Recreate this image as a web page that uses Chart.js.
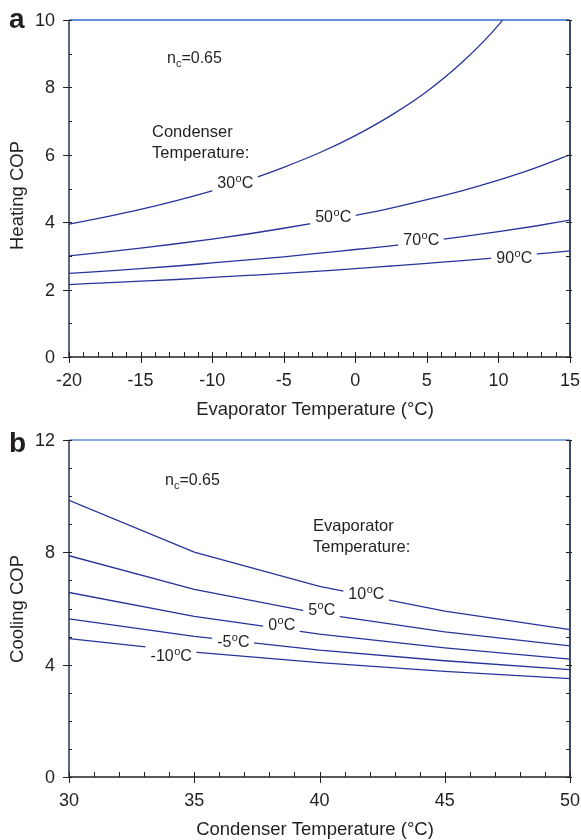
<!DOCTYPE html>
<html>
<head>
<meta charset="utf-8">
<script src="https://cdn.jsdelivr.net/npm/chart.js@4/dist/chart.umd.min.js"></script>
<style>
  html, body { margin: 0; padding: 0; background: #fff; }
  .panel { position: relative; width: 581px; height: 420px; }
  canvas { display: block; }
</style>
</head>
<body>
<div class="panel"><canvas id="heat" width="581" height="420"></canvas></div>
<div class="panel"><canvas id="cool" width="581" height="420"></canvas></div>
<script>
// ---- panel a: heating COP vs evaporator temperature ----
const evapTemps = [-20, -17.5, -15, -12.5, -10, -7.5, -5, -2.5, 0, 2.5, 5, 7.5, 10, 12.5, 15];
const heat30 = [3.94, 4.15, 4.38, 4.64, 4.93, 5.25, 5.63, 6.06, 6.57, 7.17, 7.88, 8.76, 9.85, 11.26, 13.13];
const heat50 = [3.00, 3.11, 3.23, 3.36, 3.50, 3.65, 3.82, 4.00, 4.20, 4.42, 4.67, 4.94, 5.25, 5.60, 6.00];
const heat70 = [2.48, 2.55, 2.62, 2.70, 2.79, 2.88, 2.97, 3.08, 3.19, 3.30, 3.43, 3.57, 3.72, 3.88, 4.06];
const heat90 = [2.15, 2.20, 2.25, 2.30, 2.36, 2.42, 2.48, 2.55, 2.62, 2.70, 2.78, 2.86, 2.95, 3.05, 3.15];
const heatLabels = ['30', '50', '70', '90'];
const heatXTicks = [-20, -15, -10, -5, 0, 5, 10, 15];
const heatYTicks = [0, 2, 4, 6, 8, 10];

// ---- panel b: cooling COP vs condenser temperature ----
const condTemps = [30, 35, 40, 45, 50];
const cool10 = [9.85, 8.01, 6.79, 5.91, 5.25];
const cool5 = [7.88, 6.68, 5.82, 5.17, 4.67];
const cool0 = [6.57, 5.72, 5.09, 4.60, 4.20];
const coolM5 = [5.63, 5.01, 4.52, 4.14, 3.82];
const coolM10 = [4.93, 4.45, 4.07, 3.76, 3.50];
const coolLabels = ['10', '5', '0', '-5', '-10'];
const coolXTicks = [30, 35, 40, 45, 50];
const coolYTicks = [0, 4, 8, 12];

const FONT = '"Liberation Sans", Arial, sans-serif';
const INK = '#231f20';
const LINE = '#28339a';

function series(xs, ys) {
  return xs.map((x, i) => ({ x, y: ys[i] }));
}

function lineSet(xs, ys, smooth) {
  return {
    data: series(xs, ys),
    borderColor: LINE,
    borderWidth: 1.3,
    pointRadius: 0,
    fill: false,
    tension: 0,
    cubicInterpolationMode: smooth ? 'monotone' : 'default'
  };
}

// number + superscript "o" + "C", on a white box that breaks the curve
function degLabel(ctx, num, px, py) {
  const big = '16px ' + FONT, small = '11px ' + FONT;
  ctx.font = big;
  const w1 = ctx.measureText(num).width;
  const w3 = ctx.measureText('C').width;
  ctx.font = small;
  const w2 = ctx.measureText('o').width;
  const total = w1 + w2 + w3;
  const x0 = px - total / 2;
  ctx.fillStyle = '#fff';
  ctx.fillRect(x0 - 5, py - 10, total + 10, 20);
  ctx.fillStyle = INK;
  ctx.textAlign = 'left';
  ctx.textBaseline = 'alphabetic';
  const base = py + 6;
  ctx.font = big;
  ctx.fillText(num, x0, base);
  ctx.font = small;
  ctx.fillText('o', x0 + w1 + 0.5, base - 6);
  ctx.font = big;
  ctx.fillText('C', x0 + w1 + w2 + 0.5, base);
}

function ncText(ctx, x, base) {
  ctx.fillStyle = INK;
  ctx.textAlign = 'left';
  ctx.textBaseline = 'alphabetic';
  ctx.font = '16px ' + FONT;
  ctx.fillText('n', x, base);
  const wn = ctx.measureText('n').width;
  ctx.font = '11px ' + FONT;
  ctx.fillText('c', x + wn, base + 4);
  const wc = ctx.measureText('c').width;
  ctx.font = '16px ' + FONT;
  ctx.fillText('=0.65', x + wn + wc, base);
}

const panelPlugin = {
  id: 'panel',
  afterDatasetsDraw(chart, args, o) {
    const { ctx, chartArea: a, scales: { x, y } } = chart;
    ctx.save();
    // curve labels
    o.labels.forEach(l => degLabel(ctx, l.text, x.getPixelForValue(l.x), y.getPixelForValue(l.y)));

    // frame
    ctx.lineCap = 'butt';
    ctx.strokeStyle = o.topColor; ctx.lineWidth = 1.5;
    ctx.beginPath(); ctx.moveTo(a.left, a.top); ctx.lineTo(a.right, a.top); ctx.stroke();
    ctx.strokeStyle = '#3b4a68'; ctx.lineWidth = 2;
    ctx.beginPath(); ctx.moveTo(a.right, a.top); ctx.lineTo(a.right, a.bottom); ctx.stroke();
    ctx.strokeStyle = '#2a3550'; ctx.lineWidth = 1.5;
    ctx.beginPath(); ctx.moveTo(a.left, a.top); ctx.lineTo(a.left, a.bottom); ctx.stroke();
    ctx.strokeStyle = '#222'; ctx.lineWidth = 1.5;
    ctx.beginPath(); ctx.moveTo(a.left, a.bottom); ctx.lineTo(a.right + 1, a.bottom); ctx.stroke();

    // tick marks (minor every 1 unit)
    ctx.strokeStyle = '#222'; ctx.lineWidth = 1;
    ctx.beginPath();
    for (let v = y.min; v <= y.max; v += 1) {
      const p = Math.round(y.getPixelForValue(v)) + 0.5;
      const major = o.yTicks.includes(v);
      ctx.moveTo(a.left - (major ? 6 : 0), p); ctx.lineTo(a.left + 3, p);
      ctx.moveTo(a.right - 4, p); ctx.lineTo(a.right + (major ? 2 : 0), p);
    }
    for (let v = x.min; v <= x.max; v += 1) {
      const p = Math.round(x.getPixelForValue(v)) + 0.5;
      const major = o.xTicks.includes(v);
      ctx.moveTo(p, a.bottom - 5); ctx.lineTo(p, a.bottom + (major ? 6 : 0));
    }
    ctx.stroke();

    // tick labels
    ctx.fillStyle = INK;
    ctx.font = '18px ' + FONT;
    ctx.textBaseline = 'middle';
    ctx.textAlign = 'right';
    o.yTicks.forEach(v => ctx.fillText(String(v), a.left - 14, y.getPixelForValue(v) + 1));
    ctx.textAlign = 'center';
    o.xTicks.forEach(v => ctx.fillText(String(v), x.getPixelForValue(v), a.bottom + 24));
    ctx.restore();
  },
  afterDraw(chart, args, o) {
    const { ctx, chartArea: a } = chart;
    ctx.save();
    ctx.fillStyle = INK;
    // panel letter
    ctx.font = 'bold 28px ' + FONT;
    ctx.textAlign = 'left'; ctx.textBaseline = 'alphabetic';
    ctx.fillText(o.letter, 9, o.letterBase);
    // n_c note
    ncText(ctx, o.ncX, o.ncBase);
    // legend heading
    ctx.font = '16.5px ' + FONT;
    ctx.fillStyle = INK;
    ctx.fillText(o.heading[0], o.headX, o.headBase);
    ctx.fillText(o.heading[1], o.headX, o.headBase + 20.5);
    // axis titles
    ctx.font = '18.5px ' + FONT;
    ctx.textAlign = 'center';
    ctx.fillText(o.xTitle, 315, a.bottom + 57.5);
    ctx.translate(22.5, o.yTitleY);
    ctx.rotate(-Math.PI / 2);
    ctx.fillText(o.yTitle, 0, 0);
    ctx.restore();
  }
};

function makeChart(id, datasets, xr, yr, opts) {
  return new Chart(document.getElementById(id), {
    type: 'line',
    data: { datasets },
    plugins: [panelPlugin],
    options: {
      responsive: false,
      animation: false,
      devicePixelRatio: 1,
      layout: { padding: { top: 20, right: 11, left: 69, bottom: 63 } },
      plugins: { legend: { display: false }, tooltip: { enabled: false }, panel: opts },
      scales: {
        x: {
          type: 'linear', min: xr[0], max: xr[1],
          grid: { display: false }, border: { display: false },
          ticks: { display: false },
          afterFit: s => { s.height = 0; }
        },
        y: {
          min: yr[0], max: yr[1],
          grid: { display: false }, border: { display: false },
          ticks: { display: false },
          afterFit: s => { s.width = 0; }
        }
      }
    }
  });
}

makeChart('heat', [
  lineSet(evapTemps, heat30, true),
  lineSet(evapTemps, heat50, true),
  lineSet(evapTemps, heat70, true),
  lineSet(evapTemps, heat90, true)
], [-20, 15], [0, 10], {
  letter: 'a', letterBase: 28,
  topColor: '#2f6bcc',
  xTicks: heatXTicks, yTicks: heatYTicks,
  ncX: 167, ncBase: 63,
  heading: ['Condenser', 'Temperature:'], headX: 152, headBase: 137,
  xTitle: 'Evaporator Temperature (°C)',
  yTitle: 'Heating COP', yTitleY: 195.5,
  labels: [
    { text: heatLabels[0], x: -8.40, y: 5.19 },
    { text: heatLabels[1], x: -1.56, y: 4.18 },
    { text: heatLabels[2], x: 4.59, y: 3.50 },
    { text: heatLabels[3], x: 11.09, y: 2.97 }
  ]
});

makeChart('cool', [
  lineSet(condTemps, cool10, false),
  lineSet(condTemps, cool5, false),
  lineSet(condTemps, cool0, false),
  lineSet(condTemps, coolM5, false),
  lineSet(condTemps, coolM10, false)
], [30, 50], [0, 12], {
  letter: 'b', letterBase: 32,
  topColor: '#5e8fd6',
  xTicks: coolXTicks, yTicks: coolYTicks,
  ncX: 165, ncBase: 65,
  heading: ['Evaporator', 'Temperature:'], headX: 313, headBase: 111,
  xTitle: 'Condenser Temperature (°C)',
  yTitle: 'Cooling COP', yTitleY: 189,
  labels: [
    { text: coolLabels[0], x: 41.86, y: 6.55 },
    { text: coolLabels[1], x: 40.08, y: 5.98 },
    { text: coolLabels[2], x: 38.48, y: 5.45 },
    { text: coolLabels[3], x: 36.55, y: 4.84 },
    { text: coolLabels[4], x: 34.07, y: 4.34 }
  ]
});
</script>
</body>
</html>
